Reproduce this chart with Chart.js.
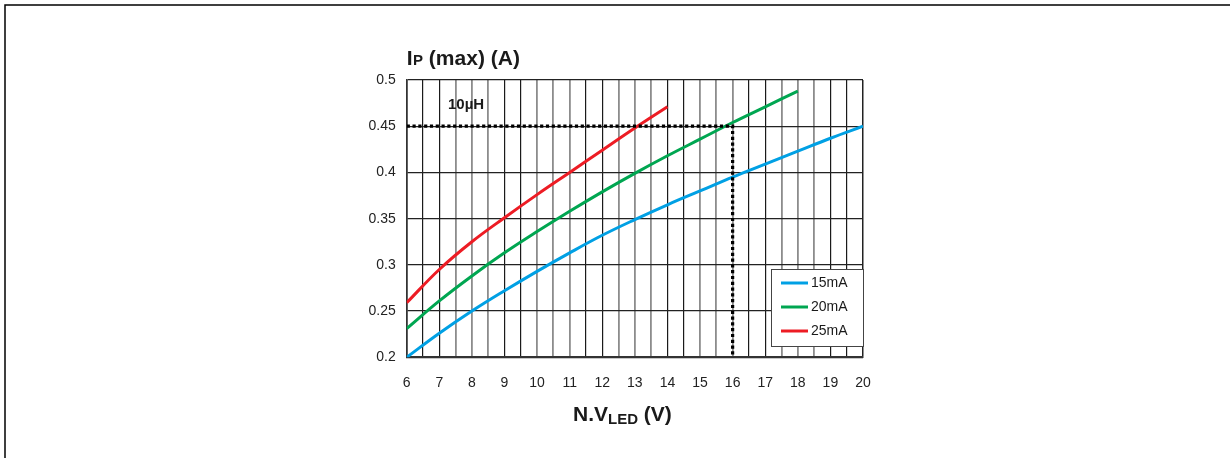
<!DOCTYPE html>
<html>
<head>
<meta charset="utf-8">
<script src="https://cdn.jsdelivr.net/npm/chart.js@4"></script>
<style>
  html, body { margin: 0; padding: 0; background: #fff; }
  canvas { display: block; }
</style>
</head>
<body>
<canvas id="c" width="1231" height="458"></canvas>
<script>
// ---- data ----
const vLed = [6, 7, 8, 9, 10, 11, 12, 13, 14, 15, 16, 17, 18, 19, 20];
const ip15mA = [0.200, 0.226, 0.250, 0.272, 0.293, 0.313, 0.332, 0.349, 0.365, 0.380, 0.395, 0.409, 0.423, 0.437, 0.450];
const ip20mA = [0.231, 0.261, 0.288, 0.313, 0.336, 0.358, 0.379, 0.399, 0.418, 0.436, 0.454, 0.471, 0.488];
const ip25mA = [0.259, 0.295, 0.325, 0.351, 0.376, 0.400, 0.424, 0.448, 0.471];
const seriesLabels = ['15mA', '20mA', '25mA'];
const xTickLabels = ['6', '7', '8', '9', '10', '11', '12', '13', '14', '15', '16', '17', '18', '19', '20'];
const yTickLabels = ['0.2', '0.25', '0.3', '0.35', '0.4', '0.45', '0.5'];
const refX = [6, 16, 16];
const refY = [0.45, 0.45, 0.2];
const inductorLabel = '10µH';

const FONT = "'Liberation Sans', Arial, Helvetica, sans-serif";
const colors = ['#00a0e4', '#00a651', '#ed1c24'];

function pts(xs, ys) { return ys.map((y, i) => ({ x: xs[i], y: y })); }

const overlay = {
  id: 'overlay',
  beforeDraw(chart) {
    const ctx = chart.ctx;
    ctx.save();
    ctx.fillStyle = '#fff';
    ctx.fillRect(0, 0, chart.width, chart.height);
    ctx.strokeStyle = '#000';
    ctx.lineWidth = 1.5;
    ctx.beginPath();
    ctx.moveTo(5, 458);
    ctx.lineTo(5, 5);
    ctx.lineTo(1230, 5);
    ctx.stroke();
    ctx.restore();
  },
  afterDraw(chart) {
    const ctx = chart.ctx;
    const a = chart.chartArea;
    ctx.save();
    ctx.fillStyle = '#1a1a1a';
    ctx.textBaseline = 'alphabetic';
    ctx.textAlign = 'left';
    // y title: I_P (max) (A)
    let x = a.left;
    const yb = 65;
    ctx.font = 'bold 21px ' + FONT;
    ctx.fillText('I', x, yb); x += ctx.measureText('I').width + 0.5;
    ctx.font = 'bold 15px ' + FONT;
    ctx.fillText('P', x, yb); x += ctx.measureText('P').width;
    ctx.font = 'bold 21px ' + FONT;
    ctx.fillText(' (max) (A)', x, yb);
    // x title: N.V_LED (V)
    x = 573;
    const xb = 421;
    ctx.font = 'bold 21px ' + FONT;
    ctx.fillText('N.V', x, xb); x += ctx.measureText('N.V').width;
    ctx.font = 'bold 15px ' + FONT;
    ctx.fillText('LED', x, xb + 3); x += ctx.measureText('LED').width;
    ctx.font = 'bold 21px ' + FONT;
    ctx.fillText(' (V)', x, xb);
    // inductor label
    ctx.font = 'bold 15px ' + FONT;
    ctx.fillText(inductorLabel, 448, 108.5);
    // legend
    const bx = 771, by = 269, bw = 92, bh = 77;
    ctx.fillStyle = '#fff';
    ctx.fillRect(bx, by, bw, bh);
    ctx.strokeStyle = '#444';
    ctx.lineWidth = 1;
    ctx.strokeRect(bx + 0.5, by + 0.5, bw, bh);
    ctx.font = '14px ' + FONT;
    ctx.textBaseline = 'middle';
    seriesLabels.forEach((lab, i) => {
      const cy = 283 + i * 24;
      ctx.strokeStyle = colors[i];
      ctx.lineWidth = 3;
      ctx.beginPath();
      ctx.moveTo(781, cy);
      ctx.lineTo(808, cy);
      ctx.stroke();
      ctx.fillStyle = '#1a1a1a';
      ctx.fillText(lab, 811, cy);
    });
    ctx.restore();
  }
};

function vGridColor(ctx) {
  const i = ctx.index;
  if (i === 0 || i === 28) return '#222';
  const m = i % 5;
  return (m === 1 || m === 2) ? '#1a1a1a' : '#8c8c8c';
}
function vGridWidth(ctx) {
  const i = ctx.index;
  if (i === 0 || i === 28) return 1.5;
  const m = i % 5;
  return (m === 1 || m === 2) ? 1.2 : 1.8;
}

const lineStyle = { borderWidth: 3, pointRadius: 0, tension: 0.4, fill: false, order: 2 };

new Chart(document.getElementById('c'), {
  type: 'line',
  data: {
    datasets: [
      Object.assign({ label: seriesLabels[0], data: pts(vLed, ip15mA), borderColor: colors[0] }, lineStyle),
      Object.assign({ label: seriesLabels[1], data: pts(vLed, ip20mA), borderColor: colors[1] }, lineStyle),
      Object.assign({ label: seriesLabels[2], data: pts(vLed, ip25mA), borderColor: colors[2] }, lineStyle),
      { label: 'ref', data: pts(refX, refY), borderColor: '#000', borderWidth: 3.2, borderDash: [3.2, 2.6], borderCapStyle: 'butt', pointRadius: 0, tension: 0, fill: false, order: 1 }
    ]
  },
  options: {
    responsive: false,
    animation: false,
    devicePixelRatio: 1,
    layout: { padding: { left: 340, right: 368, top: 80, bottom: 60.7 } },
    plugins: { legend: { display: false }, tooltip: { enabled: false } },
    scales: {
      x: {
        type: 'linear', min: 6, max: 20,
        afterFit(s) { s.height = 40; },
        ticks: {
          stepSize: 0.5, autoSkip: false, maxRotation: 0, padding: 17,
          color: '#222', font: { family: FONT, size: 14 },
          callback(v) { return Number.isInteger(v) ? xTickLabels[v - 6] : ''; }
        },
        grid: { color: vGridColor, lineWidth: vGridWidth, drawTicks: false },
        border: { display: true, color: '#333', width: 2 }
      },
      y: {
        type: 'linear', min: 0.2, max: 0.5,
        afterFit(s) { s.width = 66.7; },
        ticks: {
          stepSize: 0.05, autoSkip: false, padding: 11,
          color: '#222', font: { family: FONT, size: 14 },
          callback(v, idx) { return yTickLabels[idx]; }
        },
        grid: { color: '#222', lineWidth: 1.2, drawTicks: false },
        border: { display: true, color: '#333', width: 1.5 }
      }
    }
  },
  plugins: [overlay]
});
</script>
</body>
</html>
